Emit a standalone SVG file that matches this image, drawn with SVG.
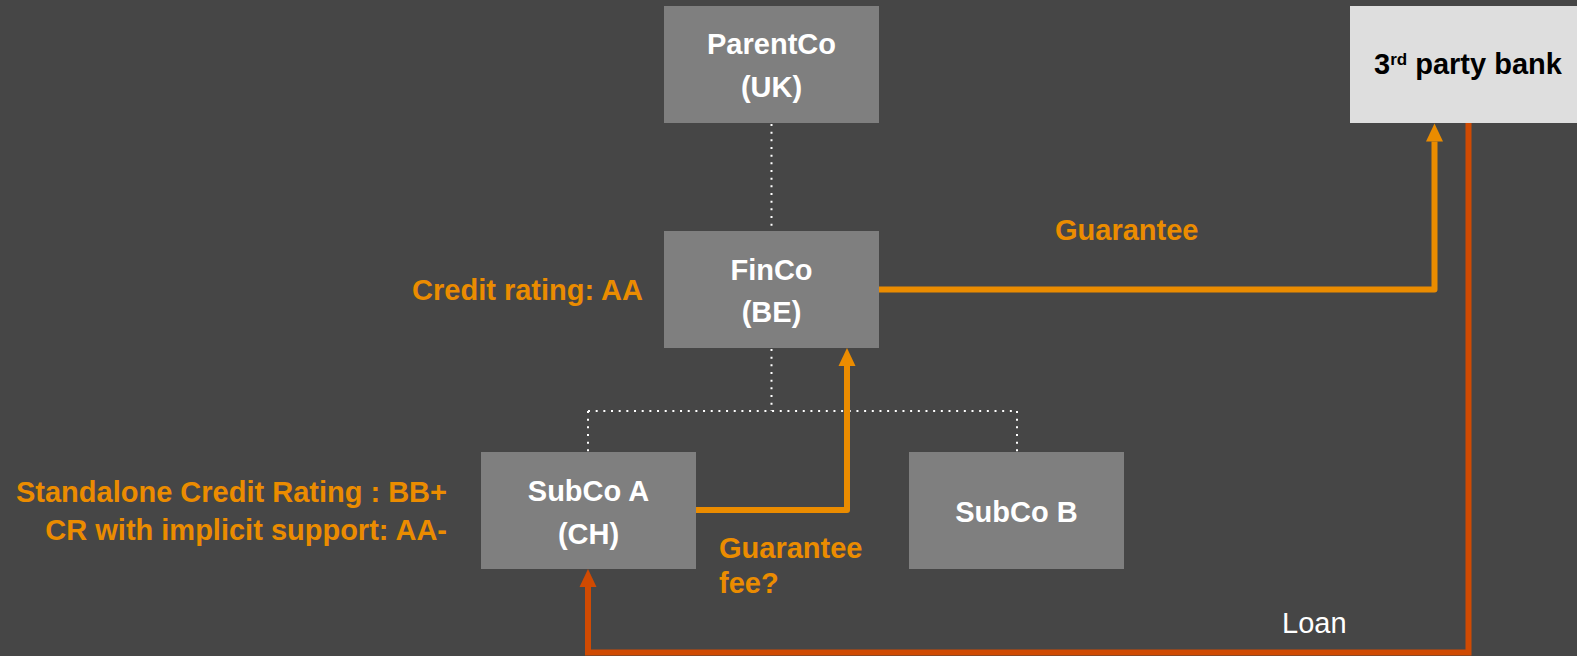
<svg xmlns="http://www.w3.org/2000/svg" width="1577" height="656" viewBox="0 0 1577 656">
  <defs>
    <style>
      .box { fill: #7f7f7f; }
      .bank { fill: #dedede; }
      .t { font-family: "Liberation Sans", Arial, sans-serif; font-size: 29px; font-weight: bold; }
      .w { fill: #ffffff; }
      .o { fill: #eb8c00; }
      .k { fill: #000000; }
      .dot { fill: none; stroke: #ffffff; stroke-width: 2; stroke-dasharray: 2 5.67; }
      .og { fill: none; stroke: #eb8c00; stroke-width: 6; stroke-linejoin: round; }
      .rd { fill: none; stroke: #d04a02; stroke-width: 6; stroke-linejoin: miter; }
    </style>
    <marker id="arrO" markerUnits="userSpaceOnUse" markerWidth="18" markerHeight="17" refX="0" refY="8.5" orient="auto" overflow="visible">
      <path d="M0,0 L18,8.5 L0,17 z" fill="#eb8c00"/>
    </marker>
    <marker id="arrR" markerUnits="userSpaceOnUse" markerWidth="18" markerHeight="17" refX="0" refY="8.5" orient="auto" overflow="visible">
      <path d="M0,0 L18,8.5 L0,17 z" fill="#d04a02"/>
    </marker>
  </defs>

  <rect width="1577" height="656" fill="#464646"/>

  <!-- connectors -->
  <g id="connectors">
    <!-- ownership structure (dotted) -->
    <path class="dot" d="M771.5,124 V231"/>
    <path class="dot" d="M771.5,349 V411 M588,411 H1017 M588,411 V452 M1017,411 V452"/>
    <!-- guarantee FinCo -> bank -->
    <path class="og" d="M879,289.5 H1434.5 V141.5" marker-end="url(#arrO)"/>
    <!-- guarantee fee SubCo A -> FinCo -->
    <path class="og" d="M696,510 H847 V366" marker-end="url(#arrO)"/>
    <!-- loan bank -> SubCo A -->
    <path class="rd" d="M1468.5,123 V652.5 H588 V587" marker-end="url(#arrR)"/>
  </g>

  <g id="parentco">
    <rect class="box" x="664" y="6" width="215" height="117"/>
    <text class="t w" x="771.5" y="54" text-anchor="middle">ParentCo</text>
    <text class="t w" x="771.5" y="97" text-anchor="middle">(UK)</text>
  </g>

  <g id="bank">
    <rect class="bank" x="1350" y="6" width="240" height="117"/>
    <text class="t k" x="1374" y="74">3<tspan font-size="17" dy="-9">rd</tspan><tspan dy="9"> party bank</tspan></text>
  </g>

  <g id="finco">
    <rect class="box" x="664" y="231" width="215" height="117"/>
    <text class="t w" x="771.5" y="279.5" text-anchor="middle">FinCo</text>
    <text class="t w" x="771.5" y="322" text-anchor="middle">(BE)</text>
  </g>

  <g id="subco-a">
    <rect class="box" x="481" y="452" width="215" height="117"/>
    <text class="t w" x="588.5" y="501" text-anchor="middle">SubCo A</text>
    <text class="t w" x="588.5" y="544" text-anchor="middle">(CH)</text>
  </g>

  <g id="subco-b">
    <rect class="box" x="909" y="452" width="215" height="117"/>
    <text class="t w" x="1016.5" y="521.5" text-anchor="middle">SubCo B</text>
  </g>

  <!-- labels -->
  <g id="labels">
    <text class="t o" x="643" y="300" text-anchor="end">Credit rating: AA</text>
    <text class="t o" x="447" y="501.5" text-anchor="end">Standalone Credit Rating : BB+</text>
    <text class="t o" x="447" y="540" text-anchor="end">CR with implicit support: AA-</text>
    <text class="t o" x="1055" y="240">Guarantee</text>
    <text class="t o" x="719" y="558">Guarantee</text>
    <text class="t o" x="719" y="593">fee?</text>
    <text x="1282" y="633" font-family="'Liberation Sans', Arial, sans-serif" font-size="29" fill="#ffffff">Loan</text>
  </g>
</svg>
